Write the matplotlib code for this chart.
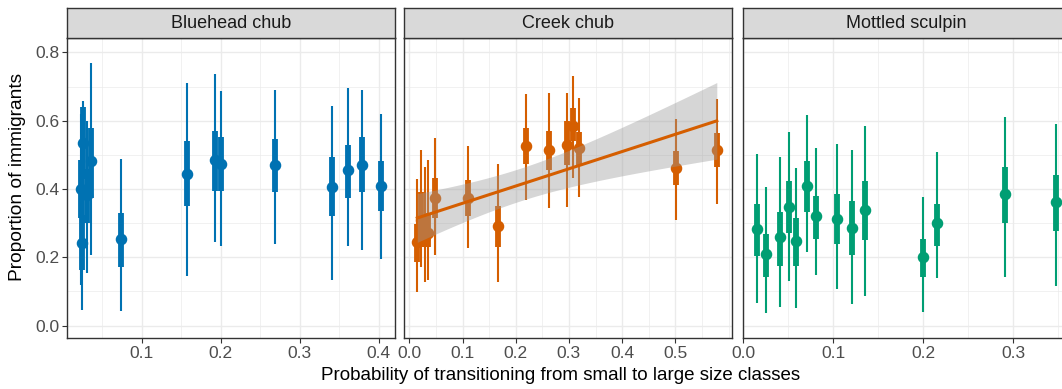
import numpy as np
import matplotlib
matplotlib.use("Agg")
import matplotlib.pyplot as plt
from matplotlib.ticker import MultipleLocator

plt.rcParams['font.family'] = ['Liberation Sans', 'DejaVu Sans']

species = ["Bluehead chub", "Creek chub", "Mottled sculpin"]
colors = ["#0072B2", "#D55E00", "#009E73"]

# Bluehead chub: x, median, 66% interval, 95% interval
bh_x = [0.023, 0.024, 0.026, 0.030, 0.036, 0.074, 0.157, 0.193, 0.2005, 0.269, 0.341, 0.3615, 0.379, 0.403]
bh_mid = [0.400, 0.241, 0.536, 0.382, 0.482, 0.254, 0.443, 0.485, 0.472, 0.470, 0.406, 0.455, 0.470, 0.410]
bh_qlo = [0.314, 0.163, 0.430, 0.300, 0.373, 0.171, 0.349, 0.395, 0.395, 0.391, 0.321, 0.374, 0.391, 0.336]
bh_qhi = [0.485, 0.324, 0.641, 0.460, 0.579, 0.331, 0.541, 0.571, 0.552, 0.546, 0.495, 0.530, 0.552, 0.481]
bh_lo = [0.120, 0.046, 0.300, 0.153, 0.207, 0.044, 0.145, 0.246, 0.234, 0.240, 0.135, 0.232, 0.221, 0.196]
bh_hi = [0.620, 0.460, 0.658, 0.600, 0.768, 0.489, 0.711, 0.738, 0.688, 0.690, 0.644, 0.696, 0.691, 0.619]

# Creek chub
cc_x = [0.015, 0.022, 0.029, 0.036, 0.048, 0.111, 0.167, 0.219, 0.262, 0.297, 0.307, 0.319, 0.501, 0.578]
cc_mid = [0.246, 0.310, 0.260, 0.270, 0.375, 0.375, 0.293, 0.526, 0.513, 0.529, 0.585, 0.521, 0.461, 0.513]
cc_qlo = [0.187, 0.230, 0.230, 0.230, 0.314, 0.321, 0.231, 0.472, 0.456, 0.470, 0.540, 0.470, 0.412, 0.463]
cc_qhi = [0.298, 0.390, 0.310, 0.330, 0.431, 0.426, 0.351, 0.579, 0.570, 0.600, 0.638, 0.568, 0.511, 0.563]
cc_lo = [0.098, 0.173, 0.129, 0.134, 0.207, 0.226, 0.127, 0.368, 0.344, 0.348, 0.431, 0.377, 0.309, 0.355]
cc_hi = [0.428, 0.514, 0.465, 0.485, 0.548, 0.526, 0.473, 0.677, 0.680, 0.682, 0.731, 0.665, 0.605, 0.662]

# Mottled sculpin
ms_x = [0.0148, 0.0248, 0.0404, 0.0507, 0.0589, 0.0704, 0.0804, 0.1037, 0.121, 0.1348, 0.1996, 0.2148, 0.2907, 0.347]
ms_mid = [0.282, 0.209, 0.260, 0.348, 0.248, 0.410, 0.321, 0.313, 0.287, 0.339, 0.201, 0.300, 0.384, 0.361]
ms_qlo = [0.205, 0.141, 0.176, 0.272, 0.175, 0.332, 0.255, 0.238, 0.207, 0.251, 0.142, 0.233, 0.301, 0.278]
ms_qhi = [0.356, 0.268, 0.334, 0.423, 0.314, 0.483, 0.380, 0.384, 0.364, 0.424, 0.255, 0.355, 0.464, 0.441]
ms_lo = [0.067, 0.038, 0.054, 0.130, 0.053, 0.216, 0.147, 0.106, 0.064, 0.088, 0.041, 0.139, 0.141, 0.117]
ms_hi = [0.502, 0.407, 0.495, 0.566, 0.462, 0.616, 0.519, 0.533, 0.514, 0.584, 0.376, 0.509, 0.611, 0.591]

data = [
    (bh_x, bh_mid, bh_qlo, bh_qhi, bh_lo, bh_hi),
    (cc_x, cc_mid, cc_qlo, cc_qhi, cc_lo, cc_hi),
    (ms_x, ms_mid, ms_qlo, ms_qhi, ms_lo, ms_hi),
]
xlims = [(0.0057, 0.420), (-0.0094, 0.606), (-0.001, 0.3629)]
xticks = [[0.1, 0.2, 0.3, 0.4], [0.0, 0.1, 0.2, 0.3, 0.4, 0.5], [0.0, 0.1, 0.2, 0.3]]

W, H = 1062, 389
fig = plt.figure(figsize=(W / 100, H / 100), dpi=100)

panel_left = [67.3, 404.3, 742.5]
panel_w = 327.4
top_px, bot_px = 38.0, 338.3
strip_top = 8.3

for i in range(3):
    l = panel_left[i] / W
    ax = fig.add_axes([l, (H - bot_px) / H, panel_w / W, (bot_px - top_px) / H])
    x, mid, qlo, qhi, lo, hi = [np.array(a) for a in data[i]]
    c = colors[i]
    ax.vlines(x, lo, hi, color=c, lw=1.5, zorder=3)
    ax.vlines(x, qlo, qhi, color=c, lw=4.2, zorder=3)
    ax.plot(x, mid, 'o', color=c, ms=7.3, zorder=4)

    if species[i] == "Creek chub":
        # linear fit with 95% confidence band, as geom_smooth(method = "lm")
        n = len(x)
        b, a = np.polyfit(x, mid, 1)
        resid = mid - (a + b * x)
        s = np.sqrt(np.sum(resid ** 2) / (n - 2))
        sxx = np.sum((x - x.mean()) ** 2)
        xs = np.linspace(x.min(), x.max(), 100)
        ys = a + b * xs
        se = s * np.sqrt(1 / n + (xs - x.mean()) ** 2 / sxx)
        t = 2.179
        ax.fill_between(xs, ys - t * se, ys + t * se, color='#999999', alpha=0.4,
                        lw=0, zorder=5)
        ax.plot(xs, ys, color=c, lw=2.2, zorder=6)

    ax.set_xlim(*xlims[i])
    ax.set_ylim(-0.037, 0.842)
    ax.set_xticks(xticks[i])
    ax.set_xticklabels([f"{v:.1f}" for v in xticks[i]])
    ax.xaxis.set_minor_locator(MultipleLocator(0.05))
    ax.set_yticks([0.0, 0.2, 0.4, 0.6, 0.8])
    ax.yaxis.set_minor_locator(MultipleLocator(0.1))
    ax.grid(True, which='major', color='#EBEBEB', lw=1.0, zorder=0)
    ax.grid(True, which='minor', color='#EBEBEB', lw=0.5, zorder=0)
    ax.set_axisbelow(True)
    for sp in ax.spines.values():
        sp.set_color('#333333')
        sp.set_linewidth(1.0)
    ax.tick_params(which='minor', length=0)
    ax.tick_params(which='major', length=3.5, width=0.8, color='#333333',
                   labelsize=12.5, labelcolor='#4D4D4D', pad=2)
    if i == 0:
        ax.set_yticklabels(["0.0", "0.2", "0.4", "0.6", "0.8"])
    else:
        ax.tick_params(axis='y', left=False, labelleft=False)

    # facet strip
    sax = fig.add_axes([l, (H - top_px + 0.3) / H, panel_w / W, (top_px - strip_top - 0.3) / H])
    sax.set_facecolor('#D9D9D9')
    sax.set_xticks([])
    sax.set_yticks([])
    for sp in sax.spines.values():
        sp.set_color('#333333')
        sp.set_linewidth(1.0)
    sax.text(0.5, 0.5, species[i], ha='center', va='center', fontsize=13,
             color='#1A1A1A', transform=sax.transAxes)

fig.text(561 / W, 1 - 375 / H, "Probability of transitioning from small to large size classes",
         ha='center', va='center', fontsize=13.5)
fig.text(18 / W, 1 - 177 / H, "Proportion of immigrants", ha='center', va='center',
         rotation=90, fontsize=13.8)

fig.savefig("out.png", dpi=100)
